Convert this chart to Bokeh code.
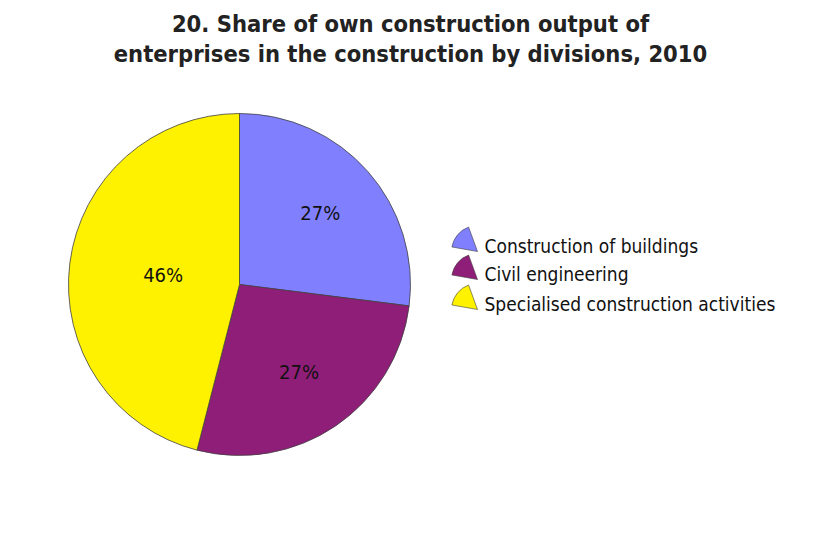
import math
from bokeh.plotting import figure
from bokeh.models import Range1d, ColumnDataSource
from bokeh.core.properties import value
from bokeh.embed import file_html
from bokeh.resources import INLINE

categories = ["Construction of buildings", "Civil engineering", "Specialised construction activities"]
shares = [27, 27, 46]
colors = ["#8080FF", "#8F1E78", "#FFF200"]
title_lines = ["20. Share of own construction output of",
               "enterprises in the construction by divisions, 2010"]

W, H = 812, 532
FONT = "'DejaVu Sans Condensed', 'Liberation Sans Narrow', 'Roboto Condensed', 'Liberation Sans', sans-serif"

p = figure(width=W, height=H, output_backend="svg", toolbar_location=None,
           x_range=Range1d(0, W), y_range=Range1d(0, H), min_border=0,
           outline_line_color=None)
p.axis.visible = False
p.grid.visible = False
p.background_fill_color = "white"
p.border_fill_color = "white"

def px(x):  # page x -> data x
    return x
def py(y):  # page y -> data y
    return H - y

cx, cy, R = px(239), py(284), 171
total = sum(shares)
starts, ends, cum = [], [], 0.0
for s in shares:
    starts.append(math.pi / 2 - 2 * math.pi * cum / total)
    cum += s
    ends.append(math.pi / 2 - 2 * math.pi * cum / total)

src = ColumnDataSource(dict(start=starts, end=ends, color=colors, cat=categories))
p.wedge(x=cx, y=cy, radius=R, start_angle="start", end_angle="end", direction="clock",
        fill_color="color", line_color="#404040", line_width=0.8, source=src)

# percentage labels
label_frac = [0.63, 0.62, 0.45]
lx, ly, lt = [], [], []
for s, e, f, v in zip(starts, ends, label_frac, shares):
    m = (s + e) / 2
    lx.append(cx + f * R * math.cos(m))
    ly.append(cy + f * R * math.sin(m))
    lt.append(f"{v}%")
p.text(x=lx, y=ly, text=lt, text_align="center", text_baseline="middle",
       text_font=value(FONT), text_font_size="20px", text_color="#111111")

# title
p.text(x=[px(410), px(410)], y=[py(23), py(53)], text=title_lines,
       text_align="center", text_baseline="middle", text_font=value(FONT),
       text_font_size="23.5px", text_font_style="bold", text_color="#222222")

# legend
leg_y = [245, 273, 303]
for i, c in enumerate(colors):
    p.wedge(x=px(477), y=py(leg_y[i] + 6), radius=26, start_angle=math.radians(110),
            end_angle=math.radians(170), fill_color=c, line_color="#404040", line_width=0.6)
p.text(x=[px(484)] * 3, y=[py(v) for v in leg_y], text=categories,
       text_align="left", text_baseline="middle", text_font=value(FONT),
       text_font_size="19px", text_color="#111111")

open("out.html", "w").write(file_html(p, INLINE))
